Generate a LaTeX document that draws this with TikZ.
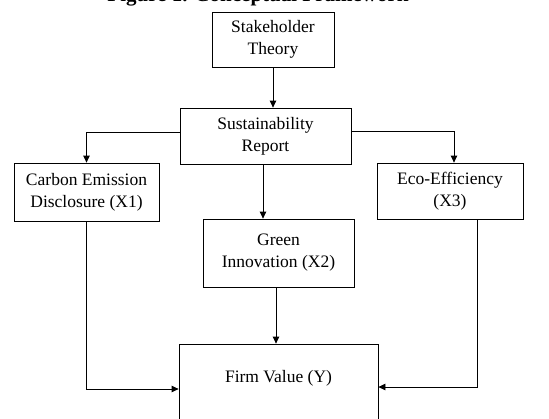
\documentclass[tikz,border=0pt]{standalone}
\usepackage{fontspec}
\setmainfont{Liberation Serif}
\usetikzlibrary{arrows.meta}
\tikzset{
  boxnode/.style={draw, line width=0.8pt, align=center, inner sep=0pt,
    font=\fontsize{17.5}{22}\selectfont},
  arr/.style={draw, line width=0.8pt, -{Triangle[length=7pt,width=6.5pt]}},
  ttl/.style={font=\fontsize{21}{24}\selectfont\bfseries, inner sep=0pt}
}
\begin{document}
\begin{tikzpicture}[x=1pt,y=-1pt]
\useasboundingbox (0,0) rectangle (549,418);
\clip (0,0) rectangle (549,418);
\fill[white] (0,0) rectangle (549,418);
\node[ttl, anchor=base] (title) at (258,1) {Figure 1. Conceptual Framework};
\node[boxnode, minimum width=122pt, minimum height=55pt] (stake) at (273,39.5) {Stakeholder\\Theory};
\node[boxnode, minimum width=171pt, minimum height=56pt] (sust) at (265.5,136) {Sustainability\\Report};
\node[boxnode, minimum width=145pt, minimum height=58pt] (carbon) at (86.5,192) {Carbon Emission\\Disclosure (X1)};
\node[boxnode, minimum width=146pt, minimum height=56pt] (eco) at (450,191) {Eco-Efficiency\\(X3)};
\node[boxnode, minimum width=151pt, minimum height=68pt] (green) at (278.5,253) {Green\\Innovation (X2)};
\node[boxnode, minimum width=199pt, text height=38pt, text depth=58pt, anchor=base] (firm) at (278.5,382) {Firm Value (Y)};
\draw[arr] (stake.south) -- (stake.south |- sust.north);
\draw[arr] ([yshift=4pt]sust.west) -| (carbon.north);
\draw[arr] ([yshift=5pt]sust.east) -| ([xshift=4pt]eco.north);
\draw[arr] ([xshift=-2.5pt]sust.south) -- ([xshift=-2.5pt]sust.south |- green.north);
\draw[arr] ([xshift=-2.5pt]green.south) -- ([xshift=-2.5pt]green.south |- firm.north);
\draw[arr] (carbon.south) |- ([yshift=3pt]firm.west);
\draw[arr] ([xshift=27pt]eco.south) |- ([yshift=5pt]firm.east);
\end{tikzpicture}
\end{document}
